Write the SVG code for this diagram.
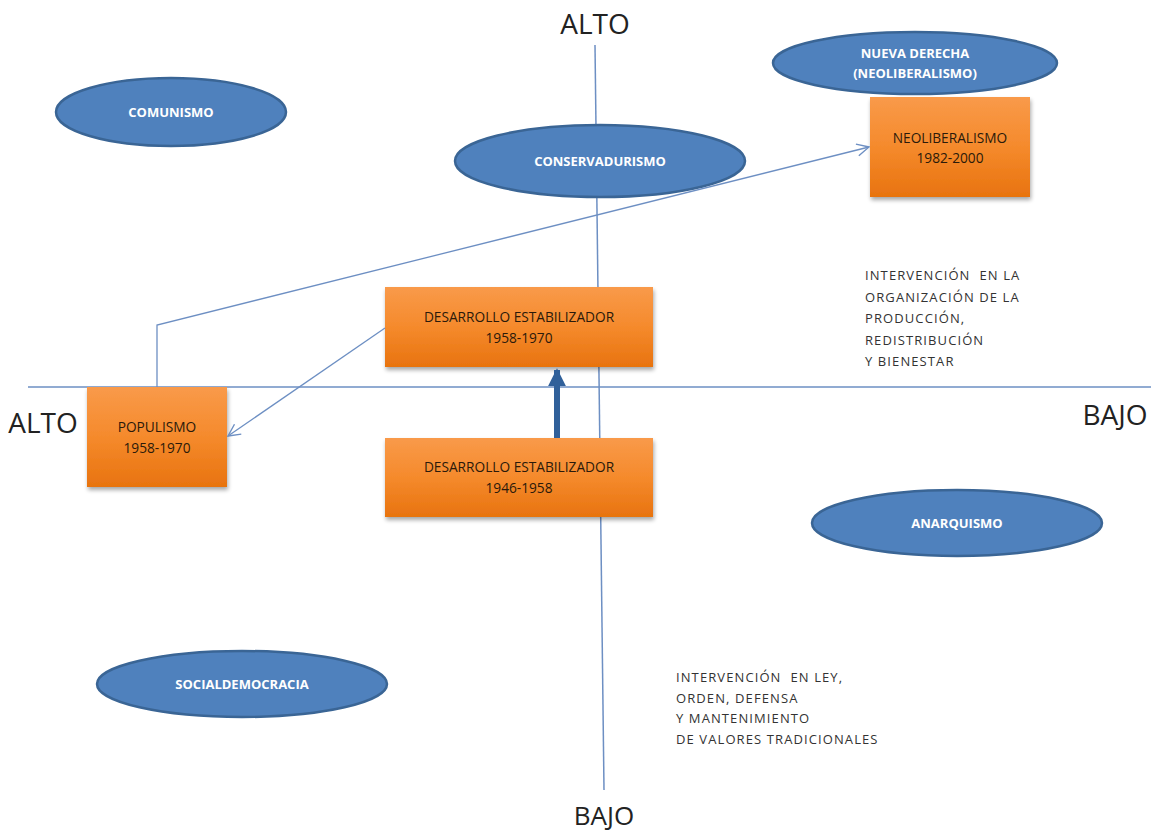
<svg xmlns="http://www.w3.org/2000/svg" width="1151" height="834" viewBox="0 0 1151 834">
<defs>
<linearGradient id="og" x1="0" y1="0" x2="0" y2="1">
<stop offset="0" stop-color="#f99a4a"/>
<stop offset="0.5" stop-color="#f58a2c"/>
<stop offset="1" stop-color="#e8730f"/>
</linearGradient>
<filter id="sh" x="-10%" y="-10%" width="130%" height="130%">
<feGaussianBlur in="SourceAlpha" stdDeviation="2"/>
<feOffset dx="1" dy="3" result="o"/>
<feComponentTransfer><feFuncA type="linear" slope="0.35"/></feComponentTransfer>
<feMerge><feMergeNode/><feMergeNode in="SourceGraphic"/></feMerge>
</filter>
<marker id="open" viewBox="0 0 14 14" refX="13" refY="7" markerWidth="14" markerHeight="14" markerUnits="userSpaceOnUse" orient="auto">
<path d="M1,1 L13,7 L1,13" fill="none" stroke="#6d8fc3" stroke-width="1.4"/>
</marker>
<marker id="solid" viewBox="0 0 10 10" refX="9" refY="5" markerWidth="3" markerHeight="3" orient="auto">
<path d="M0,0 L10,5 L0,10 z" fill="#30609a"/>
</marker>
</defs>
<style>
.ell{fill:#4f81bd;stroke:#3a6595;stroke-width:2.5}
.et{fill:#ffffff;font-family:"Open Sans","Liberation Sans",sans-serif;font-weight:bold;font-size:13px;text-anchor:middle}
.box{fill:url(#og);filter:url(#sh)}
.bt{fill:#2b1a0a;font-family:"Open Sans","Liberation Sans",sans-serif;font-size:13.7px;text-anchor:middle}
.ax{stroke:#6d8fc3;stroke-width:1.5;fill:none}
.axl{fill:#222;font-family:"Open Sans","Liberation Sans",sans-serif;font-size:28px;text-anchor:middle}
.note{fill:#333;font-family:"Open Sans","Liberation Sans",sans-serif;font-size:13px;letter-spacing:1.1px;white-space:pre}
.con{stroke:#6d8fc3;stroke-width:1.3;fill:none}
</style>
<rect width="1151" height="834" fill="#ffffff"/>
<g id="axes">
<line class="ax" x1="595" y1="45" x2="604" y2="790"/>
<line class="ax" x1="28" y1="387" x2="1151" y2="387"/>
<text class="axl" x="595" y="34">ALTO</text>
<text class="axl" x="43" y="433">ALTO</text>
<text class="axl" x="1115" y="425">BAJO</text>
<text class="axl" x="604" y="825" style="font-size:26px">BAJO</text>
</g>
<g id="comunismo"><ellipse class="ell" cx="171" cy="112" rx="115" ry="34"/><text class="et" x="171" y="117">COMUNISMO</text></g>
<g id="nueva-derecha"><ellipse class="ell" cx="915" cy="63" rx="142" ry="31"/><text class="et" x="915" y="58">NUEVA DERECHA</text><text class="et" x="915" y="78">(NEOLIBERALISMO)</text></g>
<g id="conservadurismo"><ellipse class="ell" cx="600" cy="161" rx="145" ry="36"/><text class="et" x="600" y="166">CONSERVADURISMO</text></g>
<g id="anarquismo"><ellipse class="ell" cx="957" cy="523" rx="145" ry="33"/><text class="et" x="957" y="528">ANARQUISMO</text></g>
<g id="socialdemocracia"><ellipse class="ell" cx="242" cy="684" rx="145" ry="33"/><text class="et" x="242" y="689">SOCIALDEMOCRACIA</text></g>
<g id="neoliberalismo"><rect class="box" x="870" y="97" width="160" height="100"/><text class="bt" x="950" y="143">NEOLIBERALISMO</text><text class="bt" x="950" y="163">1982-2000</text></g>
<g id="desarrollo-1958"><rect class="box" x="385" y="287" width="268" height="80"/><text class="bt" x="519" y="322">DESARROLLO ESTABILIZADOR</text><text class="bt" x="519" y="343">1958-1970</text></g>
<g id="desarrollo-1946"><rect class="box" x="385" y="438" width="268" height="79"/><text class="bt" x="519" y="472">DESARROLLO ESTABILIZADOR</text><text class="bt" x="519" y="493">1946-1958</text></g>
<g id="populismo"><rect class="box" x="87" y="387" width="140" height="100"/><text class="bt" x="157" y="432">POPULISMO</text><text class="bt" x="157" y="453">1958-1970</text></g>
<g id="connectors">
<polyline class="con" points="157,387 157,325 869,147" marker-end="url(#open)"/>
<line class="con" x1="385" y1="328" x2="228" y2="436" marker-end="url(#open)"/>
<line x1="557" y1="438" x2="557" y2="370" stroke="#30609a" stroke-width="6" marker-end="url(#solid)"/>
</g>
<g id="notes">
<text class="note" x="865" y="280">INTERVENCIÓN  EN LA</text>
<text class="note" x="865" y="302">ORGANIZACIÓN DE LA</text>
<text class="note" x="865" y="323">PRODUCCIÓN,</text>
<text class="note" x="865" y="345">REDISTRIBUCIÓN</text>
<text class="note" x="865" y="366">Y BIENESTAR</text>
<text class="note" x="676" y="682">INTERVENCIÓN  EN LEY,</text>
<text class="note" x="676" y="703">ORDEN, DEFENSA</text>
<text class="note" x="676" y="723">Y MANTENIMIENTO</text>
<text class="note" x="676" y="744">DE VALORES TRADICIONALES</text>
</g>
</svg>
